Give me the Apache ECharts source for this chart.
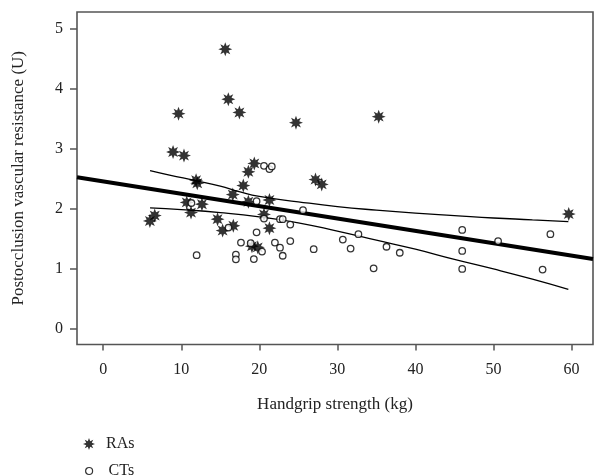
<!DOCTYPE html>
<html>
<head>
<meta charset="utf-8">
<script src="https://cdn.jsdelivr.net/npm/echarts@6/dist/echarts.min.js"></script>
<style>html,body{margin:0;padding:0;background:#fff}#c{width:594px;height:476px}</style>
</head>
<body>
<div id="c"></div>
<script>
// RAs: [handgrip kg, resistance U]
const ras = [
  [5.98,1.79],[6.6,1.88],[8.95,2.94],[9.65,3.58],[10.35,2.88],[10.7,2.10],[11.25,1.93],
  [11.9,2.47],[12.05,2.42],[12.65,2.07],[14.65,1.82],[15.3,1.63],[15.64,4.655],[16.03,3.82],
  [16.6,2.23],[16.67,1.71],[17.45,3.6],[17.95,2.38],[18.6,2.61],[18.6,2.11],[19.06,1.37],
  [19.36,2.75],[19.8,1.35],[20.6,1.90],[21.3,2.14],[21.3,1.67],[24.7,3.43],[27.2,2.48],
  [28.0,2.40],[35.3,3.53],[59.65,1.905]
];
// CTs
const cts = [
  [11.3,2.09],[11.97,1.22],[16.05,1.68],[17.0,1.23],[17.0,1.15],[17.65,1.43],[18.9,1.42],
  [19.3,1.155],[19.65,2.12],[19.65,1.60],[20.35,1.28],[20.6,2.71],[20.6,1.83],[21.3,2.655],
  [21.6,2.70],[22.0,1.43],[22.65,1.82],[23.0,1.82],[22.65,1.345],[23.0,1.21],[23.97,1.73],
  [23.97,1.455],[25.6,1.97],[26.97,1.32],[30.7,1.48],[31.7,1.33],[32.7,1.57],[34.65,1.0],
  [36.3,1.36],[38.0,1.26],[46.0,1.64],[46.0,1.29],[46.0,0.99],[50.6,1.455],[56.3,0.98],[57.3,1.57]
];
// regression line endpoints (read at plot edges)
const fitLine = [[-3.36,2.52],[62.76,1.155]];
// confidence bands
const upperBand = [[6,2.63],[8.5,2.555],[12,2.46],[15,2.37],[17.4,2.28],[20,2.20],[25,2.11],[30,2.03],[35,1.97],[40,1.92],[45,1.88],[50,1.84],[55,1.81],[59.6,1.78]];
const lowerBand = [[6,2.01],[10,1.98],[15,1.93],[20,1.86],[25,1.76],[30,1.62],[35,1.47],[40,1.32],[45,1.15],[50,0.99],[55,0.82],[59.6,0.65]];
const xTicks = [0,10,20,30,40,50,60];
const yTicks = [0,1,2,3,4,5];

const star = 'path://M20 10 L14.6 12.0 L17.07 17.07 L12.0 14.6 L10 20 L8.0 14.6 L2.93 17.07 L5.4 12.0 L0 10 L5.4 8.0 L2.93 2.93 L8.0 5.4 L10 0 L12.0 5.4 L17.07 2.93 L14.6 8.0 Z';
const font = 'Liberation Serif';
const txt = '#222';
const axisCol = '#555';

const chart = echarts.init(document.getElementById('c'), null, {renderer:'canvas'});
const legendText = {fontFamily:font, fontSize:16, color:txt, padding:[0,0,0,6]};
chart.setOption({
  animation:false,
  backgroundColor:'#fff',
  grid:{left:77, top:12, right:1, bottom:131.5, show:true, borderColor:axisCol, borderWidth:1.6, backgroundColor:'transparent'},
  legend:[
    {left:78, top:431, itemWidth:12, itemHeight:12, textStyle:legendText,
     data:[{name:'RAs', icon:star, itemStyle:{color:'#000'}}]},
    {left:80, top:458, itemWidth:7, itemHeight:7, textStyle:Object.assign({}, legendText, {padding:[0,0,0,11]}),
     data:[{name:'CTs', icon:'circle', itemStyle:{color:'#fff', borderColor:'#000', borderWidth:1.2}}]}
  ],
  xAxis:{
    type:'value', min:-3.36, max:62.76,
    name:'Handgrip strength (kg)', nameLocation:'middle', nameGap:52,
    nameTextStyle:{fontFamily:font, fontSize:17, color:txt},
    axisLine:{show:false, onZero:false},
    axisTick:{show:true, length:6, customValues:xTicks, lineStyle:{color:axisCol, width:1.5}},
    axisLabel:{customValues:xTicks, fontFamily:font, fontSize:16, color:txt, margin:17},
    splitLine:{show:false}
  },
  yAxis:{
    type:'value', min:-0.27, max:5.275,
    name:'Postocclusion vascular resistance (U)', nameLocation:'middle', nameGap:50,
    nameTextStyle:{fontFamily:font, fontSize:17, color:txt},
    axisLine:{show:false, onZero:false},
    axisTick:{show:true, length:7, customValues:yTicks, lineStyle:{color:axisCol, width:1.5}},
    axisLabel:{customValues:yTicks, fontFamily:font, fontSize:16, color:txt, margin:14},
    splitLine:{show:false}
  },
  series:[
    {name:'fit', type:'line', data:fitLine, symbol:'none', lineStyle:{color:'#000', width:4}, z:3, silent:true},
    {name:'upper', type:'line', data:upperBand, smooth:true, symbol:'none', lineStyle:{color:'#000', width:1.3}, z:3, silent:true},
    {name:'lower', type:'line', data:lowerBand, smooth:true, symbol:'none', lineStyle:{color:'#000', width:1.3}, z:3, silent:true},
    {name:'RAs', type:'scatter', data:ras, symbol:star, symbolSize:14, itemStyle:{color:'#000'}, z:4},
    {name:'CTs', type:'scatter', data:cts, symbol:'circle', symbolSize:6.5, itemStyle:{color:'#fff', borderColor:'#000', borderWidth:1.3}, z:4}
  ]
});
</script>
</body>
</html>
